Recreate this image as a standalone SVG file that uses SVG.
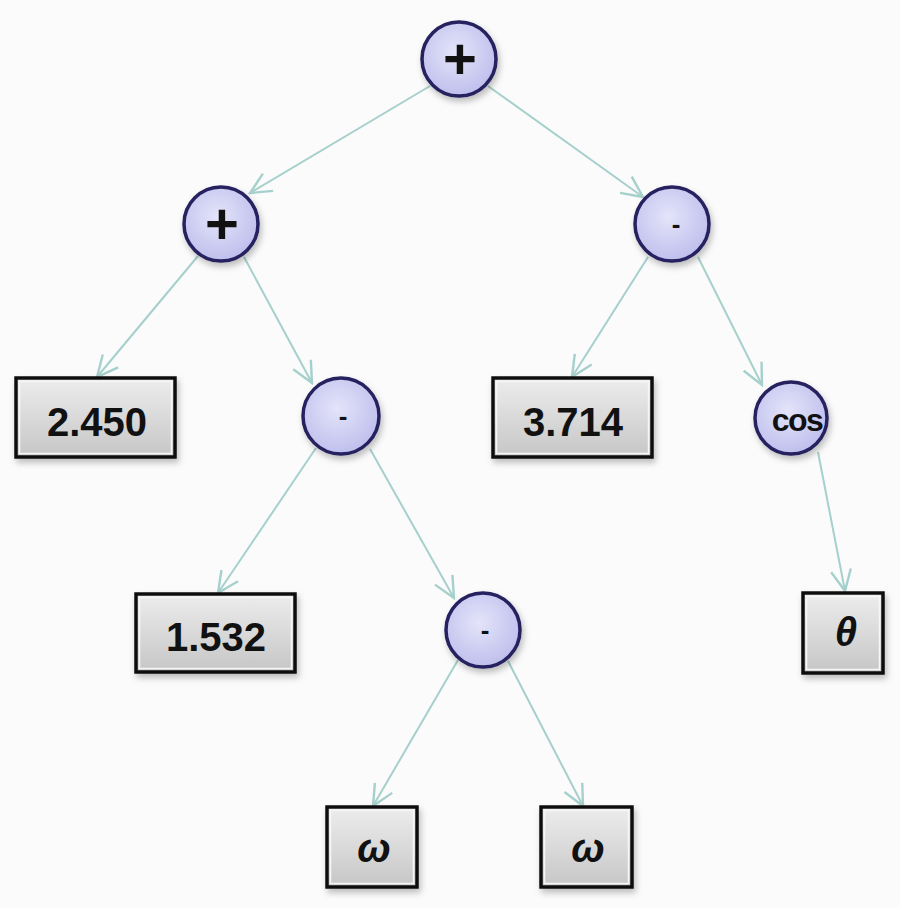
<svg xmlns="http://www.w3.org/2000/svg" width="900" height="908" viewBox="0 0 900 908">
<defs>
<linearGradient id="gBox" x1="0" y1="0" x2="0" y2="1">
<stop offset="0" stop-color="#ededed"/>
<stop offset="1" stop-color="#c6c6c6"/>
</linearGradient>
<radialGradient id="gCirc" cx="0.45" cy="0.4" r="0.65">
<stop offset="0" stop-color="#e4e4fa"/>
<stop offset="1" stop-color="#bcbcec"/>
</radialGradient>
<filter id="sh" x="-20%" y="-20%" width="150%" height="150%">
<feDropShadow dx="2" dy="4" stdDeviation="3" flood-color="#000" flood-opacity="0.25"/>
</filter>
<marker id="arr" viewBox="0 0 24 24" refX="22" refY="12" markerWidth="24" markerHeight="24" markerUnits="userSpaceOnUse" orient="auto">
<path d="M1,2 L22,12 L1,22" fill="none" stroke="#a6d0cc" stroke-width="2.4"/>
</marker>
</defs>
<style>
.bg{fill:#fbfbfb}
.edge{stroke:#a6d0cc;stroke-width:2;fill:none;marker-end:url(#arr)}
.box{fill:url(#gBox);stroke:#111;stroke-width:3.5;filter:url(#sh)}
.inner{fill:none;stroke:#f6f6f6;stroke-width:1.5}
.circ{fill:url(#gCirc);stroke:#26215f;stroke-width:3.5;filter:url(#sh)}
.num{font-family:"Liberation Sans",Arial,sans-serif;font-weight:bold;font-size:40px;fill:#111;text-anchor:middle}
.op{font-family:"Liberation Sans",Arial,sans-serif;font-weight:bold;fill:#111;text-anchor:middle}
.gr{font-family:"Liberation Sans",Arial,sans-serif;font-weight:bold;font-style:italic;fill:#111;text-anchor:middle}
</style>
<rect class="bg" x="0" y="0" width="900" height="908"/>
<g id="connectors">
<line class="edge" x1="430" y1="86" x2="250" y2="193"/>
<line class="edge" x1="488" y1="86" x2="643" y2="197"/>
<line class="edge" x1="198" y1="256" x2="97" y2="377"/>
<line class="edge" x1="244" y1="257" x2="312" y2="383"/>
<line class="edge" x1="648" y1="257" x2="572" y2="377"/>
<line class="edge" x1="698" y1="257" x2="762" y2="385"/>
<line class="edge" x1="316" y1="448" x2="218" y2="593"/>
<line class="edge" x1="370" y1="449" x2="454" y2="598"/>
<line class="edge" x1="458" y1="660" x2="373" y2="806"/>
<line class="edge" x1="508" y1="661" x2="583" y2="806"/>
<line class="edge" x1="818" y1="452" x2="845" y2="591"/>
</g>
<g id="n_root">
<circle class="circ" cx="459" cy="59" r="37"/>
<text class="op" x="460" y="79" font-size="58">+</text>
</g>
<g id="n_plus_left">
<circle class="circ" cx="221" cy="224" r="37"/>
<text class="op" x="222" y="244" font-size="58">+</text>
</g>
<g id="n_minus_right">
<circle class="circ" cx="672" cy="224" r="37"/>
<text class="op" x="676" y="233" font-size="26">-</text>
</g>
<g id="n_minus_mid">
<circle class="circ" cx="341" cy="416" r="38"/>
<text class="op" x="343" y="425" font-size="26">-</text>
</g>
<g id="n_minus_low">
<circle class="circ" cx="483" cy="630" r="37"/>
<text class="op" x="485" y="639" font-size="26">-</text>
</g>
<g id="n_cos">
<circle class="circ" cx="791" cy="418" r="36"/>
<text class="op" x="797" y="431" font-size="32" letter-spacing="-1.5">cos</text>
</g>
<g id="n_2450">
<rect class="box" x="16" y="378" width="159" height="79"/>
<rect class="inner" x="19.5" y="381.5" width="152" height="72"/>
<text class="num" x="97" y="436">2.450</text>
</g>
<g id="n_3714">
<rect class="box" x="493" y="378" width="159" height="79"/>
<rect class="inner" x="496.5" y="381.5" width="152" height="72"/>
<text class="num" x="573" y="436">3.714</text>
</g>
<g id="n_1532">
<rect class="box" x="136" y="594" width="159" height="78"/>
<rect class="inner" x="139.5" y="597.5" width="152" height="71"/>
<text class="num" x="216" y="651">1.532</text>
</g>
<g id="n_theta">
<rect class="box" x="803" y="593" width="80" height="80"/>
<rect class="inner" x="806.5" y="596.5" width="73" height="73"/>
<text class="gr" x="846" y="646" font-size="40">θ</text>
</g>
<g id="n_omega_left">
<rect class="box" x="327" y="807" width="90" height="80"/>
<rect class="inner" x="330.5" y="810.5" width="83" height="73"/>
<text class="gr" x="374" y="862" font-size="40">ω</text>
</g>
<g id="n_omega_right">
<rect class="box" x="541" y="807" width="91" height="80"/>
<rect class="inner" x="544.5" y="810.5" width="84" height="73"/>
<text class="gr" x="588" y="862" font-size="40">ω</text>
</g>
</svg>
